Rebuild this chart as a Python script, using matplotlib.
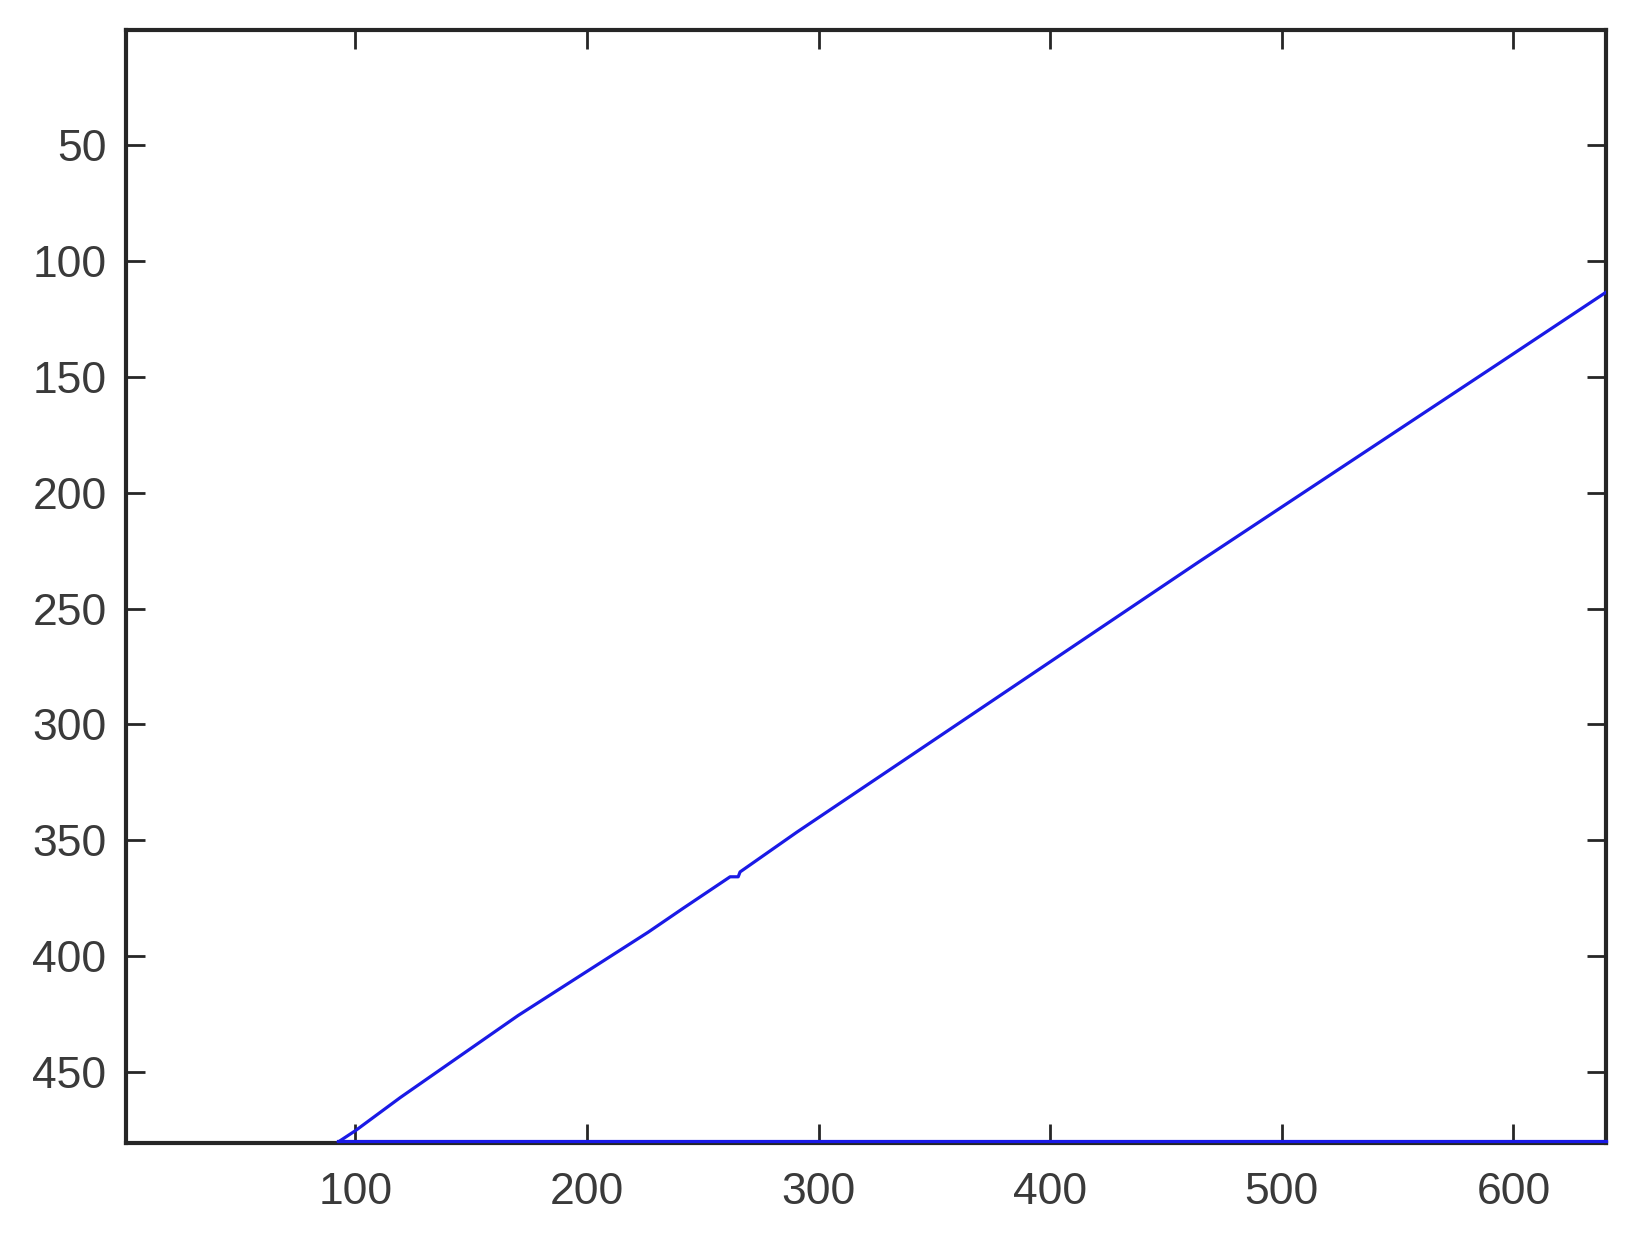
import matplotlib.pyplot as plt

# traced line (image coordinates, y grows downwards)
line_x = [92.7, 100.0, 119.4, 170.3, 226.4, 241.5, 261.8, 265.3, 266.1, 290.7, 335.1, 463.7, 593.1, 640.0]
line_y = [480.0, 475.2, 460.9, 425.5, 389.6, 379.3, 365.7, 365.7, 363.6, 346.4, 316.6, 230.2, 144.7, 113.6]

# base segment along the bottom row
base_x = [92.7, 640.0]
base_y = [479.6, 479.6]

x_ticks = [100, 200, 300, 400, 500, 600]
y_ticks = [50, 100, 150, 200, 250, 300, 350, 400, 450]

plt.rcParams['font.family'] = ['Liberation Sans', 'DejaVu Sans']

fig = plt.figure(figsize=(16.33, 12.33), dpi=100)
ax = fig.add_axes([0.0772, 0.0730, 0.9835 - 0.0772, 0.9757 - 0.0730])

ax.plot(line_x, line_y, color='#1a1ae6', lw=2.3)
ax.plot(base_x, base_y, color='#1a1ae6', lw=2.3, clip_on=False, zorder=3)

ax.set_xlim(1, 640)
ax.set_ylim(480.5, 0.5)
ax.set_xticks(x_ticks)
ax.set_yticks(y_ticks)

ax.tick_params(direction='in', length=14, width=2, colors='#262626',
               labelcolor='#3a3a3a', labelsize=32,
               top=True, right=True)
ax.tick_params(axis='x', pad=21)
ax.tick_params(axis='y', pad=14)
for s in ax.spines.values():
    s.set_linewidth(3)
    s.set_color('#262626')
    s.set_zorder(0.5)

fig.savefig('out.png', dpi=100)
